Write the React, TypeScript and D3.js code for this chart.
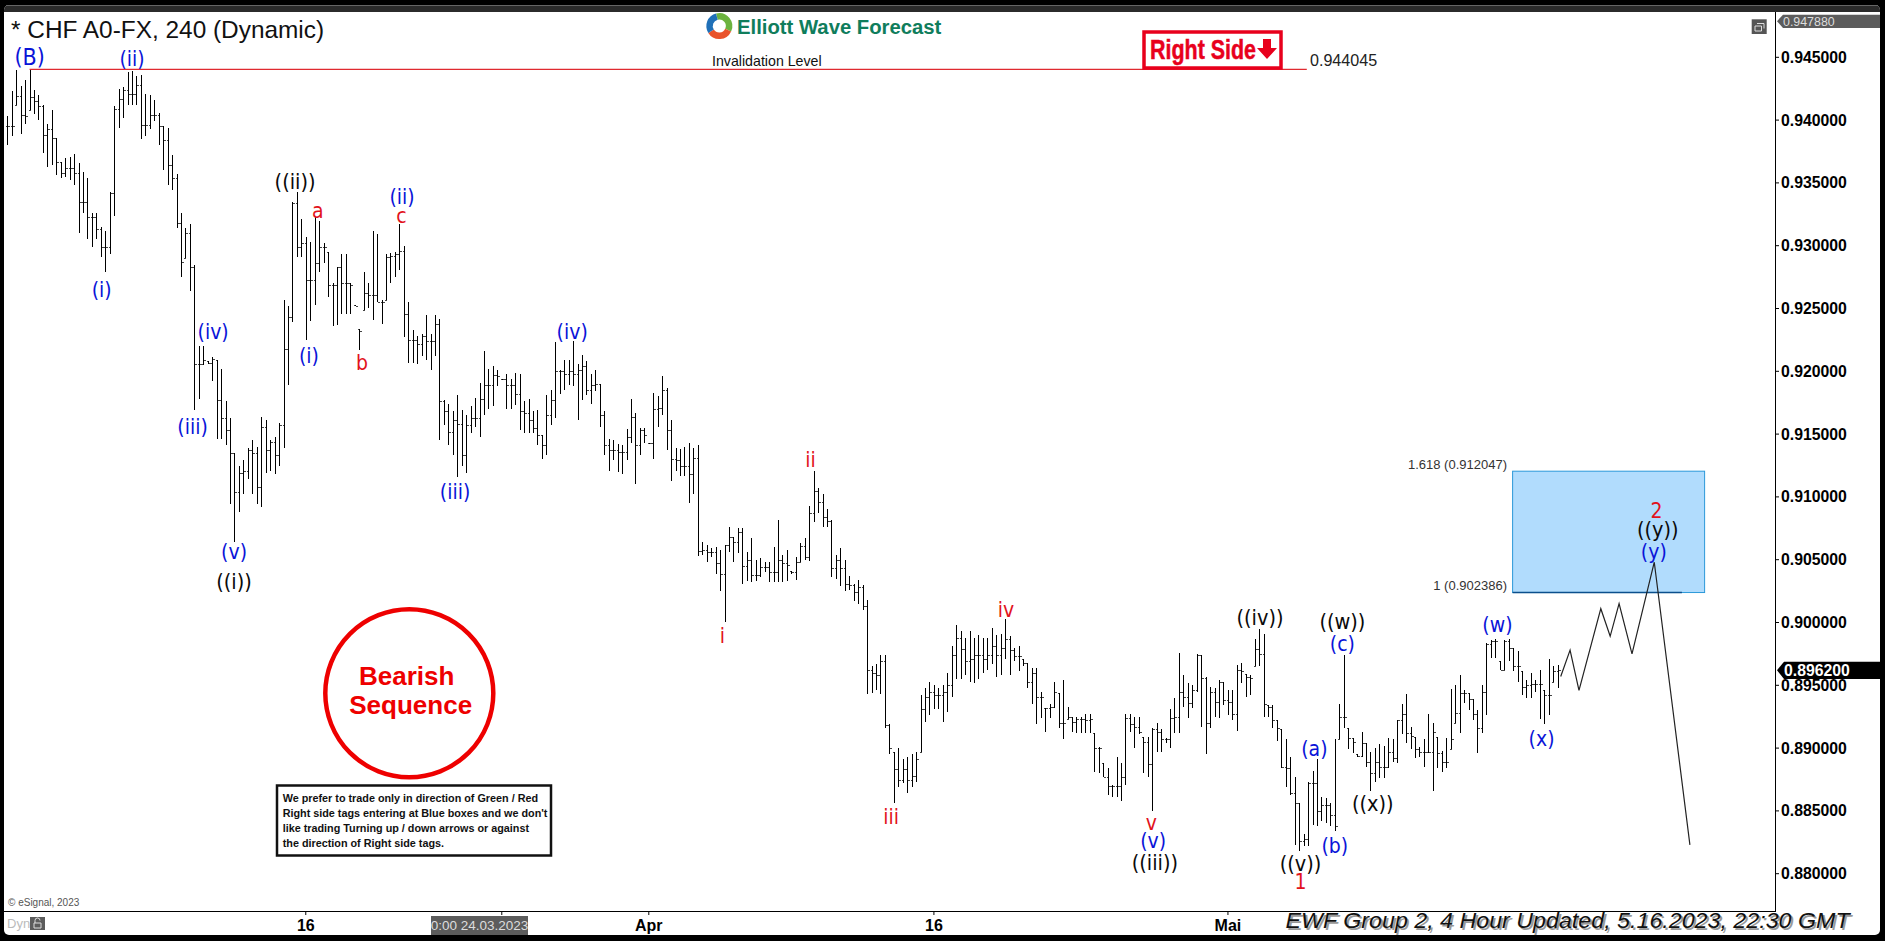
import * as d3 from "d3";

// pips, 9403 = 0.9403
const barHigh = [
  9403,9423,9440,9427,9432,9440,9424,9420,9412,9397,
  9408,9386,9367,9370,9371,9373,9366,9359,9354,9326,
  9326,9315,9312,9343,9411,9425,9426,9438,9439,9435,
  9436,9421,9420,9416,9406,9395,9394,9372,9357,9326,
  9314,9317,9285,9220,9220,9208,9211,9209,9202,9176,
  9163,9135,9125,9129,9139,9145,9140,9164,9161,9145,
  9148,9159,9257,9252,9335,9343,9321,9307,9303,9323,
  9320,9302,9295,9270,9283,9293,9293,9270,9253,9234,
  9279,9270,9312,9309,9257,9293,9294,9295,9317,9300,
  9255,9233,9228,9230,9245,9230,9245,9242,9177,9174,
  9168,9181,9169,9165,9172,9179,9191,9216,9202,9204,
  9201,9194,9198,9194,9199,9198,9176,9178,9168,9169,
  9149,9181,9185,9223,9201,9209,9209,9224,9206,9213,
  9208,9198,9201,9190,9168,9146,9145,9142,9141,9154,
  9178,9167,9155,9155,9143,9183,9180,9196,9187,9161,
  9139,9138,9140,9143,9139,9141,9064,9062,9059,9060,
  9058,9062,9076,9068,9075,9075,9056,9067,9050,9051,
  9048,9048,9060,9082,9054,9058,9041,9052,9063,9067,
  9093,9121,9107,9102,9090,9082,9054,9059,9050,9037,
  9031,9034,9030,9018,8965,8967,8974,8974,8919,8897,
  8900,8891,8893,8895,8897,8942,8948,8953,8950,8948,
  8950,8960,8981,8998,8993,8988,8993,8988,8990,8988,
  8988,8996,8990,8991,9003,8989,8980,8981,8971,8968,
  8964,8964,8945,8932,8935,8953,8944,8954,8933,8925,
  8925,8925,8927,8927,8912,8901,8888,8884,8871,8893,
  8888,8927,8927,8925,8925,8909,8909,8916,8920,8915,
  8908,8931,8940,8976,8958,8952,8950,8975,8974,8957,
  8949,8948,8954,8953,8946,8946,8966,8968,8959,8958,
  8987,8995,8991,8934,8934,8922,8915,8907,8893,8877,
  8856,8832,8873,8882,8891,8861,8860,8856,8907,8935,
  8974,8916,8908,8895,8913,8904,8897,8900,8903,8902,
  8908,8907,8922,8935,8943,8917,8909,8901,8907,8927,
  8920,8909,8898,8908,8947,8950,8958,8946,8944,8939,
  8930,8950,8984,8986,8987,8969,8986,8987,8980,8977,
  8961,8954,8960,8954,8962,8946,8971,8965,8966,
];
const barLow = [
  9380,9387,9412,9389,9397,9408,9405,9400,9374,9363,
  9364,9356,9354,9355,9352,9348,9310,9326,9305,9299,
  9305,9291,9279,9293,9324,9394,9402,9412,9412,9412,
  9385,9387,9393,9399,9380,9360,9348,9344,9314,9275,
  9290,9264,9169,9178,9205,9206,9192,9146,9146,9141,
  9094,9064,9088,9102,9114,9102,9094,9092,9119,9121,
  9118,9125,9139,9189,9239,9291,9291,9225,9240,9253,
  9279,9286,9259,9236,9237,9246,9246,9246,9252,9217,
  9249,9250,9241,9255,9238,9257,9270,9275,9281,9227,
  9207,9207,9206,9212,9209,9201,9212,9145,9157,9141,
  9133,9116,9125,9119,9151,9156,9148,9165,9170,9172,
  9188,9193,9170,9170,9173,9153,9151,9151,9151,9141,
  9130,9133,9157,9163,9182,9185,9189,9188,9161,9177,
  9181,9174,9184,9156,9133,9121,9129,9120,9118,9129,
  9143,9110,9133,9143,9142,9130,9156,9165,9137,9113,
  9121,9117,9117,9095,9102,9053,9054,9048,9052,9039,
  9025,9000,9056,9048,9055,9031,9033,9032,9033,9036,
  9040,9032,9032,9032,9032,9033,9039,9034,9048,9050,
  9049,9080,9087,9076,9076,9036,9035,9029,9025,9026,
  9017,9015,9010,8943,8944,8946,8943,8916,8895,8856,
  8869,8872,8864,8869,8873,8897,8921,8926,8931,8931,
  8921,8929,8941,8955,8955,8958,8953,8952,8955,8960,
  8962,8967,8957,8958,8971,8958,8969,8961,8965,8948,
  8935,8919,8924,8913,8924,8932,8916,8907,8923,8913,
  8912,8912,8912,8912,8881,8880,8877,8863,8861,8861,
  8858,8871,8913,8900,8911,8880,8877,8850,8897,8897,
  8904,8900,8912,8912,8933,8924,8932,8945,8917,8895,
  8916,8925,8924,8934,8926,8922,8914,8952,8941,8942,
  8965,8965,8925,8925,8916,8906,8884,8869,8863,8823,
  8818,8822,8822,8839,8838,8842,8840,8838,8834,8907,
  8916,8899,8896,8893,8893,8885,8866,8873,8876,8876,
  8884,8889,8888,8911,8904,8899,8892,8893,8885,8896,
  8866,8884,8881,8884,8899,8920,8912,8936,8930,8922,
  8896,8912,8926,8972,8972,8962,8962,8969,8961,8953,
  8942,8940,8940,8945,8923,8919,8926,8953,8948,
];
const barClose = [
  9395,9395,9419,9404,9403,9418,9415,9411,9388,9393,
  9386,9367,9358,9362,9362,9358,9335,9335,9323,9323,
  9313,9299,9299,9342,9409,9417,9424,9421,9421,9428,
  9396,9396,9404,9404,9395,9384,9364,9354,9318,9287,
  9310,9283,9206,9206,9209,9207,9210,9177,9163,9153,
  9135,9104,9119,9121,9137,9135,9108,9156,9137,9144,
  9133,9157,9218,9243,9334,9299,9302,9273,9273,9286,
  9299,9299,9269,9269,9283,9270,9270,9269,9252,9232,
  9262,9261,9261,9255,9255,9291,9292,9293,9296,9246,
  9225,9225,9222,9228,9224,9224,9238,9176,9168,9152,
  9161,9158,9133,9157,9163,9163,9178,9189,9189,9197,
  9196,9194,9189,9189,9182,9168,9167,9161,9155,9149,
  9141,9165,9177,9200,9200,9198,9200,9198,9201,9204,
  9185,9189,9190,9165,9141,9137,9137,9136,9136,9148,
  9164,9141,9153,9149,9143,9170,9171,9185,9153,9130,
  9129,9125,9125,9118,9131,9057,9058,9056,9056,9047,
  9039,9062,9068,9064,9072,9045,9050,9038,9038,9044,
  9044,9040,9040,9050,9047,9046,9040,9048,9061,9052,
  9087,9105,9096,9084,9081,9043,9050,9043,9031,9030,
  9024,9028,9013,8962,8960,8958,8969,8918,8900,8883,
  8875,8883,8875,8878,8891,8931,8941,8945,8942,8942,
  8945,8950,8974,8988,8979,8969,8971,8974,8974,8971,
  8974,8981,8974,8980,8987,8978,8973,8973,8968,8953,
  8960,8941,8941,8932,8933,8945,8920,8920,8925,8921,
  8923,8923,8922,8923,8900,8900,8877,8870,8870,8870,
  8877,8924,8919,8917,8913,8905,8887,8915,8913,8907,
  8907,8924,8925,8945,8941,8936,8946,8974,8956,8920,
  8945,8937,8953,8938,8937,8927,8962,8961,8957,8956,
  8979,8975,8935,8933,8922,8916,8885,8884,8864,8856,
  8826,8828,8872,8872,8850,8855,8855,8847,8838,8925,
  8925,8908,8905,8894,8904,8889,8880,8889,8885,8885,
  8897,8892,8922,8927,8912,8910,8899,8897,8897,8897,
  8913,8896,8889,8889,8907,8928,8944,8944,8939,8927,
  8916,8945,8983,8985,8985,8962,8985,8980,8965,8965,
  8949,8950,8951,8951,8951,8942,8942,8961,8962,
];

// projected path after the last bar
const projectionBar = [348.7, 350.8, 352.8, 357.7, 359.8, 361.8, 364.7, 369.7, 377.7];
const projectionPrice = [8957, 8978, 8946, 9011, 8989, 9015, 8975, 9048, 8823];

const waveText = [
  "(B)","(ii)","(i)","((ii))","a","(ii)","c","(iv)","(iii)","(i)","b","(iii)","(v)","((i))","(iv)",
  "ii","i","iii","iv","((iv))","((w))","(c)","(a)","(b)","((x))","v","(v)","((iii))","((v))","1",
  "(w)","(x)","2","((y))","(y)",
];
const waveBar = [
  5,28,21.2,64.6,69.7,88.6,88.5,46.2,41.6,67.7,79.6,100.5,50.9,50.9,126.8,
  180.3,160.5,198.4,224.2,281.2,299.7,299.7,293.4,298,306.5,256.8,257.2,257.6,290.3,290.3,
  334.5,344.4,370.2,370.5,369.6,
];
const wavePrice = [
  9450,9449,9265,9351,9328,9339,9324,9231,9156,9212,9207,9104,9056,9033,9231,
  9129,8989,8845,9010,9004,9001,8983,8899,8822,8856,8840,8826,8809,8808,8793,
  8998,8907,9089,9074,9056,
];

const priceTicks = [0.945,0.94,0.935,0.93,0.925,0.92,0.915,0.91,0.905,0.9,0.895,0.89,0.885,0.88];
const dateTickBars = [67, 111, 144, 208, 274];
const dateTickLabels = ["16", "", "Apr", "16", "Mai"];

const invalidationLevel = 0.944045;
const invalidationStartBar = 5;
const invalidationEndBar = 291.7;
const fibHigh = 0.912047;
const fibLow = 0.902386;
const fibStartBar = 337.9;
const fibEndBar = 381;
const fibLineEndBar = 375.9;
const lastPrice = 0.8962;
const maxPrice = 0.94788;

const notice = [
  "We prefer to trade only in direction of Green / Red",
  "Right side tags entering at Blue boxes and we don't",
  "like trading Turning up / down arrows or against",
  "the direction of Right side tags.",
];

const width = 1885;
const height = 941;
const sans = "'Liberation Sans', Arial, sans-serif";

const x = d3.scaleLinear([0, 348], [7.3, 1557.6]);
const y = d3.scaleLinear([0.945, 0.88], [57.3, 873.7]);
const pip = (v: number) => y(v / 10000);

const waveColor = (t: string) => (t.startsWith("((") ? "#0a0a0a" : t.startsWith("(") ? "#0a14d8" : "#e2121c");

const stemPath = (i: number) => {
  const px = Math.round(x(i)) + 0.5;
  return `M${px},${Math.round(pip(barHigh[i]))}V${Math.round(pip(barLow[i]))}`;
};
const tickPath = (i: number) => {
  const px = Math.round(x(i)) + 0.5;
  const open = i === 0 ? barClose[0] : Math.min(barHigh[i], Math.max(barLow[i], barClose[i - 1]));
  const yOpen = Math.round(pip(open)) + 0.5;
  const yClose = Math.round(pip(barClose[i])) + 0.5;
  return `M${px - 2},${yOpen}H${px}M${px},${yClose}H${px + 2}`;
};

const projectionLine = d3.line<number>((d) => x(d), (_, i) => pip(projectionPrice[i]));

const logoArc = d3.arc();
const logoSlices: [number, number, string][] = [
  [-0.25, 2.0, "#6cb33f"],
  [2.0, 4.15, "#e9532b"],
  [4.15, 6.03, "#1f70b8"],
];

const App: React.FC = () => {
  return (
    <svg width={width} height={height} style={{ position: "absolute", left: 0, top: 0, display: "block" }} fontFamily={sans}>
      <rect width={width} height={height} fill="#000" />
      <rect x={4} y={5} width={1876} height={930} rx={5} fill="#fff" />
      <path d="M4,12V10a5,5 0 0 1 5,-5H1875a5,5 0 0 1 5,5V12Z" fill="#2b2b2b" />
      <path d="M6,5.5H1878" stroke="#666" strokeWidth={1} />

      {/* header */}
      <text x={11} y={38} fontSize={24.4} fill="#111">* CHF A0-FX, 240 (Dynamic)</text>
      <g transform="translate(719.3,26)">
        {logoSlices.map(([a, b, c]) => (
          <path key={c} fill={c} d={logoArc({ innerRadius: 6.5, outerRadius: 13, startAngle: a, endAngle: b }) ?? undefined} />
        ))}
      </g>
      <text x={737} y={34} fontSize={20.3} fontWeight="bold" fill="#0f7d5c">Elliott Wave Forecast</text>
      <text x={712} y={66} fontSize={14.2} fill="#111">Invalidation Level</text>

      {/* invalidation line */}
      <line x1={x(invalidationStartBar)} x2={x(invalidationEndBar)} y1={y(invalidationLevel)} y2={y(invalidationLevel)} stroke="#e02a30" strokeWidth={1.2} />
      <text x={1310} y={66} fontSize={16.1} fill="#222">0.944045</text>
      <rect x={1144} y={32} width={137} height={36} fill="#fff" stroke="#e8001c" strokeWidth={3.5} />
      <text x={1150} y={59} fontSize={28} fontWeight="bold" fill="#e8001c" stroke="#e8001c" strokeWidth={0.5} fontFamily="'Liberation Sans Narrow', 'Liberation Sans', sans-serif" textLength={106} lengthAdjust="spacingAndGlyphs">Right Side</text>
      <path d="M1263,39H1271V48H1277L1267,59L1257,48H1263Z" fill="#e8001c" />

      {/* fib box */}
      <rect x={x(fibStartBar)} y={y(fibHigh)} width={x(fibEndBar) - x(fibStartBar)} height={y(fibLow) - y(fibHigh)} fill="#b1dcfd" stroke="#2b98d9" strokeWidth={1} />
      <line x1={x(fibStartBar)} x2={x(fibLineEndBar)} y1={y(fibLow)} y2={y(fibLow)} stroke="#0b4f8c" strokeWidth={1.5} />
      <text x={1507} y={469} fontSize={13} textAnchor="end" fill="#333">1.618 (0.912047)</text>
      <text x={1507} y={590} fontSize={13} textAnchor="end" fill="#333">1 (0.902386)</text>

      {/* bars */}
      <path d={barHigh.map((_, i) => tickPath(i)).join("")} fill="none" stroke="#444" strokeWidth={1} shapeRendering="crispEdges" />
      <path d={barHigh.map((_, i) => stemPath(i)).join("")} fill="none" stroke="#000" strokeWidth={1} shapeRendering="crispEdges" />
      <path d={projectionLine(projectionBar) ?? undefined} fill="none" stroke="#222" strokeWidth={1.2} />

      {/* wave labels */}
      <g fontFamily="'DejaVu Sans Condensed', 'DejaVu Sans', sans-serif" textAnchor="middle" dominantBaseline="central">
        {waveText.map((t, i) => (
          <text key={i} x={x(waveBar[i])} y={pip(wavePrice[i])} fontSize={t === "(B)" ? 23 : t.startsWith("((") ? 21.5 : 21} fill={waveColor(t)}>{t}</text>
        ))}
      </g>

      {/* bearish stamp and notice */}
      <circle cx={409.3} cy={693.3} r={84} fill="#fff" stroke="#ee0000" strokeWidth={4.5} />
      <text x={406.7} y={685} fontSize={26} fontWeight="bold" fill="#ee0000" textAnchor="middle">Bearish</text>
      <text x={410.7} y={714} fontSize={26} fontWeight="bold" fill="#ee0000" textAnchor="middle">Sequence</text>
      <rect x={277} y={785.5} width={274} height={70} fill="#fff" stroke="#111" strokeWidth={2.5} />
      {notice.map((t, i) => (
        <text key={i} x={282.7} y={801.5 + i * 15} fontSize={10.8} fontWeight="bold" fill="#111">{t}</text>
      ))}

      {/* price axis */}
      <line x1={1775.5} x2={1775.5} y1={12} y2={912} stroke="#000" strokeWidth={1} />
      {priceTicks.map((p) => (
        <g key={p}>
          <line x1={1776} x2={1779} y1={y(p)} y2={y(p)} stroke="#000" />
          <text x={1781} y={y(p) + 5.4} fontSize={15.8} fontWeight="bold" fill="#000">{p.toFixed(6)}</text>
        </g>
      ))}
      <path d={`M1777,${y(maxPrice)}L1783,14.7H1880V28H1783Z`} fill="#5c5c5c" />
      <text x={1783} y={y(maxPrice) + 4.5} fontSize={12.4} fill="#ddd">0.947880</text>
      <path d={`M1777,${y(lastPrice)}L1784,661.7H1880V679H1784Z`} fill="#000" />
      <text x={1784} y={y(lastPrice) + 5.4} fontSize={15.8} fontWeight="bold" fill="#fff">0.896200</text>
      <rect x={1751.7} y={19.3} width={15} height={14.7} fill="#555" />
      <path d="M1757,23.5h7v5M1755,26h6.5v5h-6.5Z" fill="none" stroke="#ddd" strokeWidth={1} />

      {/* date axis */}
      <line x1={4} x2={1775.5} y1={911.5} y2={911.5} stroke="#000" strokeWidth={1} />
      {dateTickBars.map((b, i) => (
        <g key={b}>
          <line x1={x(b)} x2={x(b)} y1={912} y2={915} stroke="#000" />
          <text x={x(b)} y={931} fontSize={16} fontWeight="bold" textAnchor="middle" fill="#000">{dateTickLabels[i]}</text>
        </g>
      ))}
      <rect x={431} y={916} width={97} height={19} fill="#5c5c5c" />
      <text x={479.5} y={930} fontSize={13.5} textAnchor="middle" fill="#ddd">0:00 24.03.2023</text>
      <text x={8} y={906} fontSize={10} fill="#555">© eSignal, 2023</text>
      <text x={7} y={928} fontSize={13} fill="#bbb">Dyn</text>
      <rect x={30} y={917} width={15} height={13} fill="#5c5c5c" />
      <path d="M35,923v-2.5a2.5,2.5 0 0 1 5,0M34,923h7v5h-7Z" fill="none" stroke="#ddd" strokeWidth={1} />

      {/* footer stamp */}
      <text x={1287.5} y={930} fontSize={22.5} fontStyle="italic" fill="#999" textLength={564} lengthAdjust="spacingAndGlyphs">EWF Group 2, 4 Hour Updated, 5.16.2023, 22:30 GMT</text>
      <text x={1285.6} y={928} fontSize={22.5} fontStyle="italic" fill="#111" textLength={564} lengthAdjust="spacingAndGlyphs">EWF Group 2, 4 Hour Updated, 5.16.2023, 22:30 GMT</text>
    </svg>
  );
};

export default App;
